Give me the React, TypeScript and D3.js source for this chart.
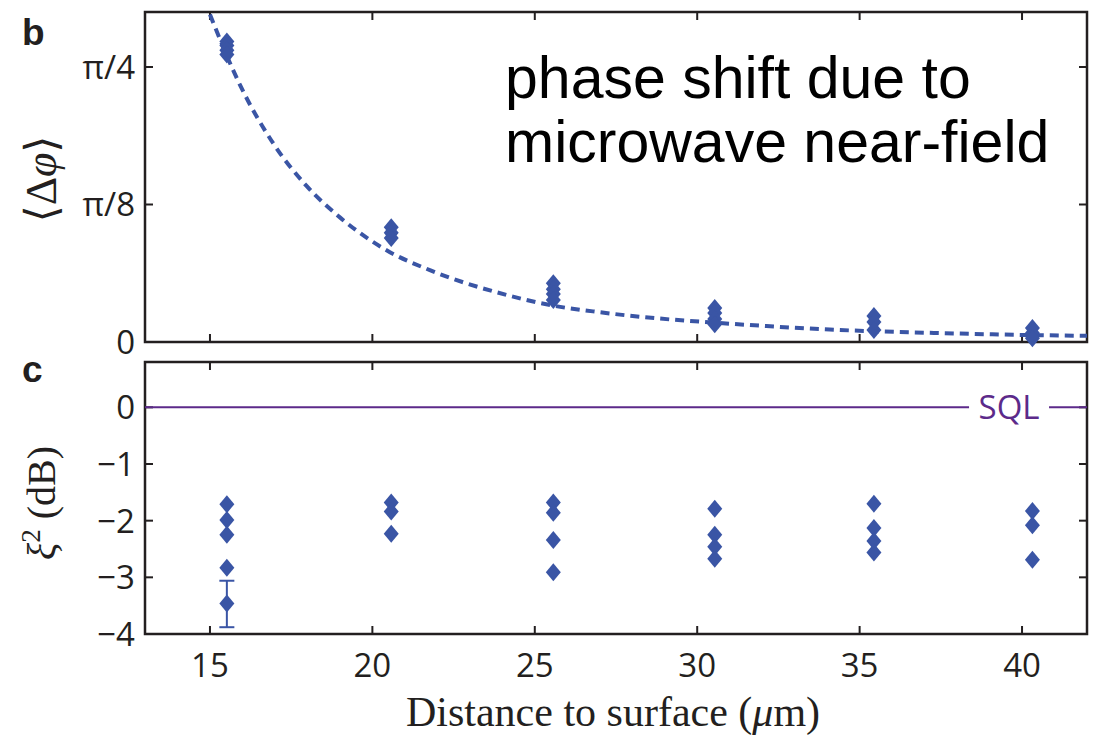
import React from "react";
import * as d3 from "d3";

// Distance to the trap surface (µm) for each measurement group
const xTicks = [15, 20, 25, 30, 35, 40];
const groupX = [15.52, 20.58, 25.57, 30.54, 35.44, 40.32];

// Mean phase shift <Δφ> (rad) per group
const phaseValues = [
  [0.858, 0.847, 0.833, 0.821],
  [0.328, 0.312, 0.297],
  [0.168, 0.151, 0.137, 0.12],
  [0.097, 0.083, 0.066, 0.051],
  [0.074, 0.057, 0.034],
  [0.04, 0.026, 0.011],
];

// Fitted near-field curve (x in µm, y in rad)
const fitX = [15.0, 15.92, 16.95, 17.98, 19.0, 20.54, 21.77, 24.23, 25.56, 27.0, 29.15, 30.49, 32.13, 34.08, 37.05, 39.0, 42.0];
const fitY = [0.9354, 0.735, 0.567, 0.445, 0.356, 0.2566, 0.2053, 0.132, 0.104, 0.085, 0.0645, 0.0555, 0.0455, 0.0355, 0.0265, 0.022, 0.0175];

// Squeezing parameter ξ² (dB) per group
const squeezeValues = [
  [-1.71, -1.99, -2.25, -2.83, -3.46],
  [-1.68, -1.84, -2.23],
  [-1.68, -1.86, -2.34, -2.91],
  [-1.79, -2.25, -2.46, -2.67],
  [-1.7, -2.13, -2.36, -2.56],
  [-1.83, -2.08, -2.69],
];

// Representative error bar on one point
const errX = 15.52;
const errLow = -3.88;
const errHigh = -3.06;

const phaseTicks = [0, Math.PI / 8, Math.PI / 4];
const phaseTickLabels = ["0", "π/8", "π/4"];
const squeezeTicks = [0, -1, -2, -3, -4];
const squeezeTickLabels = ["0", "−1", "−2", "−3", "−4"];

const BLUE = "#3a55a5";
const PURPLE = "#5c2a8a";
const INK = "#231f20";
const SANS = "'Open Sans', 'Noto Sans', sans-serif";
const SERIF = "'Liberation Serif', 'DejaVu Serif', serif";
const TICK_FONT = 33;

const diamond = "M0,-9L7.5,0L0,9L-7.5,0Z";

export default function App() {
  const left = 145;
  const right = 1087;
  const x = d3.scaleLinear().domain([13, 42]).range([left, right]);
  const yTop = d3.scaleLinear().domain([0, 0.3 * Math.PI]).range([342, 12]);
  const yBot = d3.scaleLinear().domain([-4, 0.8]).range([634, 362]);

  const fitLine = d3
    .line<number>()
    .x((_, i) => x(fitX[i]))
    .y((d) => yTop(d))
    .curve(d3.curveMonotoneX);

  const tickLen = 8;

  const frame = (y0: number, y1: number, yScale: d3.ScaleLinear<number, number>, yt: number[], key: string) => (
    <g key={key}>
      <rect x={left} y={y0} width={right - left} height={y1 - y0} fill="none" stroke={INK} strokeWidth={2.5} />
      {xTicks.map((t) => (
        <g key={"xt" + t}>
          <line x1={x(t)} x2={x(t)} y1={y1} y2={y1 - tickLen} stroke={INK} strokeWidth={2} />
          <line x1={x(t)} x2={x(t)} y1={y0} y2={y0 + tickLen} stroke={INK} strokeWidth={2} />
        </g>
      ))}
      {yt.map((t) => (
        <g key={"yt" + t}>
          <line x1={left} x2={left + tickLen} y1={yScale(t)} y2={yScale(t)} stroke={INK} strokeWidth={2} />
          <line x1={right} x2={right - tickLen} y1={yScale(t)} y2={yScale(t)} stroke={INK} strokeWidth={2} />
        </g>
      ))}
    </g>
  );

  const sqlX = x(39.6);
  const sqlY = yBot(0);

  return (
    <svg
      width={1107}
      height={738}
      style={{ position: "absolute", left: 0, top: 0, background: "#fff" }}
    >
      <defs>
        <clipPath id="topClip">
          <rect x={left} y={12} width={right - left} height={330} />
        </clipPath>
      </defs>

      {/* Panel b: phase shift */}
      {frame(12, 342, yTop, phaseTicks, "top")}
      <path
        d={fitLine(fitY) || ""}
        fill="none"
        stroke={BLUE}
        strokeWidth={4}
        strokeDasharray="9,6"
        clipPath="url(#topClip)"
      />
      {phaseValues.map((vals, gi) =>
        vals.map((v, j) => (
          <path key={`p${gi}-${j}`} d={diamond} transform={`translate(${x(groupX[gi])},${yTop(v)})`} fill={BLUE} />
        ))
      )}
      {phaseTicks.map((t, i) => (
        <text
          key={"pl" + i}
          x={135}
          y={yTop(t)}
          dy="0.36em"
          textAnchor="end"
          fontFamily={SANS}
          fontSize={TICK_FONT}
          fill={INK}
        >
          {phaseTickLabels[i]}
        </text>
      ))}
      <text
        transform={`translate(56,179) rotate(-90)`}
        textAnchor="middle"
        fontFamily={SERIF}
        fontSize={44}
        fill={INK}
      >
        ⟨Δ<tspan fontStyle="italic">φ</tspan>⟩
      </text>
      <text x={22} y={45} fontFamily="'Liberation Sans', Arial, sans-serif" fontWeight="bold" fontSize={37} fill={INK}>
        b
      </text>
      <text fontFamily="'Liberation Sans', Arial, sans-serif" fontSize={59} fill="#000">
        <tspan x={505} y={98}>phase shift due to</tspan>
        <tspan x={505} y={162}>microwave near-field</tspan>
      </text>

      {/* Panel c: squeezing */}
      {frame(362, 634, yBot, squeezeTicks.slice(0, 4), "bottom")}
      <line x1={left} x2={right} y1={sqlY} y2={sqlY} stroke={PURPLE} strokeWidth={2} />
      <rect x={sqlX - 40} y={sqlY - 14} width={80} height={28} fill="#fff" />
      <text x={sqlX} y={sqlY} dy="0.36em" textAnchor="middle" fontFamily={SANS} fontSize={TICK_FONT} fill={PURPLE}>
        SQL
      </text>
      <line x1={x(errX)} x2={x(errX)} y1={yBot(errLow)} y2={yBot(errHigh)} stroke={BLUE} strokeWidth={2} />
      <line x1={x(errX) - 7.5} x2={x(errX) + 7.5} y1={yBot(errLow)} y2={yBot(errLow)} stroke={BLUE} strokeWidth={2} />
      <line x1={x(errX) - 7.5} x2={x(errX) + 7.5} y1={yBot(errHigh)} y2={yBot(errHigh)} stroke={BLUE} strokeWidth={2} />
      {squeezeValues.map((vals, gi) =>
        vals.map((v, j) => (
          <path key={`s${gi}-${j}`} d={diamond} transform={`translate(${x(groupX[gi])},${yBot(v)})`} fill={BLUE} />
        ))
      )}
      {squeezeTicks.map((t, i) => (
        <text
          key={"sl" + i}
          x={135}
          y={yBot(t)}
          dy="0.36em"
          textAnchor="end"
          fontFamily={SANS}
          fontSize={TICK_FONT}
          fill={INK}
        >
          {squeezeTickLabels[i]}
        </text>
      ))}
      <text
        transform={`translate(55,503) rotate(-90)`}
        textAnchor="middle"
        fontFamily={SERIF}
        fontSize={40}
        fill={INK}
      >
        <tspan fontStyle="italic">ξ</tspan>
        <tspan fontSize={27} dy={-15}>2</tspan>
        <tspan dy={15}> (dB)</tspan>
      </text>
      <text x={22} y={382} fontFamily="'Liberation Sans', Arial, sans-serif" fontWeight="bold" fontSize={37} fill={INK}>
        c
      </text>

      {xTicks.map((t) => (
        <text key={"xl" + t} x={x(t)} y={677} textAnchor="middle" fontFamily={SANS} fontSize={TICK_FONT} fill={INK}>
          {t}
        </text>
      ))}
      <text x={613} y={726} textAnchor="middle" fontFamily={SERIF} fontSize={42} fill={INK}>
        Distance to surface (<tspan fontStyle="italic">μ</tspan>m)
      </text>
    </svg>
  );
}
